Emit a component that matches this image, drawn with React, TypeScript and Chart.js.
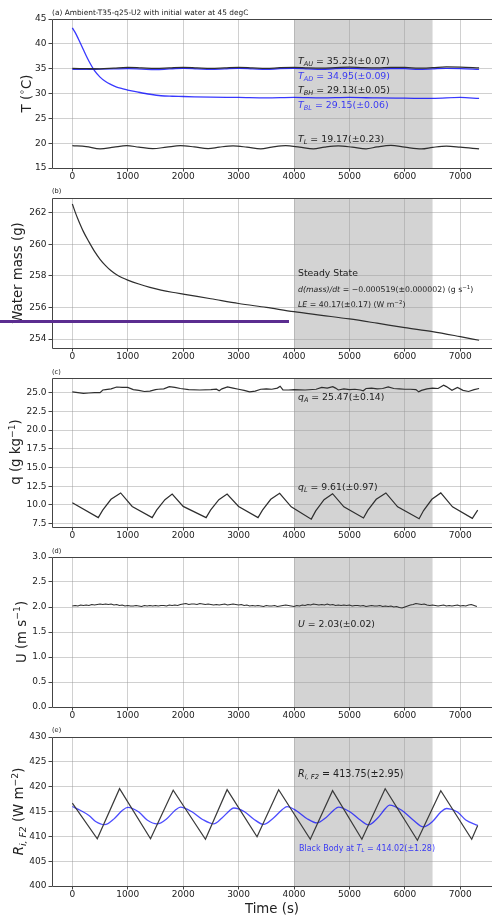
import React, { useEffect, useRef } from "react";
import { Chart, registerables } from "chart.js";
Chart.register(...registerables);

// ---------------- data ----------------
const X_TICKS = [0, 1000, 2000, 3000, 4000, 5000, 6000, 7000];
const X_MIN = -367;
const X_MAX = 7573;
const SHADE_FROM = 4000;
const SHADE_TO = 6500;

const T_TICKS = [15, 20, 25, 30, 35, 40, 45];
const MASS_TICKS = [254, 256, 258, 260, 262];
const Q_TICKS = [7.5, 10, 12.5, 15, 17.5, 20, 22.5, 25];
const U_TICKS = [0, 0.5, 1, 1.5, 2, 2.5, 3];
const R_TICKS = [400, 405, 410, 415, 420, 425, 430];

// (a) temperatures
const T_BL_TIME = [0, 50, 100, 150, 200, 250, 300, 400, 500, 600, 700, 800, 900, 1000, 1200, 1400, 1600, 1800, 2000, 2500, 3000, 3500, 4000, 4500, 5000, 5500, 6000, 6500, 7000, 7340];
const T_BL = [43.2, 42.3, 41.2, 40.0, 38.8, 37.6, 36.5, 34.6, 33.3, 32.4, 31.8, 31.3, 31.0, 30.7, 30.25, 29.85, 29.55, 29.45, 29.4, 29.25, 29.2, 29.1, 29.2, 29.1, 29.2, 29.1, 29.05, 29.0, 29.2, 29.0];

const T_A_TIME = [0, 250, 500, 750, 1000, 1250, 1500, 1750, 2000, 2250, 2500, 2750, 3000, 3250, 3500, 3750, 4000, 4250, 4500, 4750, 5000, 5250, 5500, 5750, 6000, 6250, 6500, 6750, 7000, 7340];
const T_AU = [35.05, 35.0, 34.95, 35.1, 35.25, 35.15, 35.05, 35.15, 35.25, 35.15, 35.05, 35.15, 35.25, 35.15, 35.05, 35.2, 35.25, 35.15, 35.1, 35.2, 35.3, 35.2, 35.15, 35.25, 35.25, 35.1, 35.2, 35.35, 35.3, 35.15];
const T_AD = [34.85, 34.85, 34.9, 34.95, 35.0, 34.9, 34.8, 34.95, 35.05, 34.95, 34.85, 34.95, 35.05, 34.95, 34.85, 35.0, 35.05, 34.95, 34.85, 35.0, 35.05, 34.95, 34.9, 35.0, 35.0, 34.85, 34.95, 35.05, 35.0, 34.85];

const T_L_TIME = [0, 250, 500, 750, 980, 1200, 1450, 1700, 1950, 2200, 2450, 2650, 2900, 3150, 3400, 3600, 3850, 4100, 4350, 4550, 4800, 5050, 5300, 5500, 5750, 6000, 6300, 6500, 6750, 7000, 7340];
const T_L = [19.5, 19.3, 18.85, 19.2, 19.5, 19.2, 18.9, 19.2, 19.5, 19.25, 18.9, 19.2, 19.45, 19.2, 18.85, 19.2, 19.5, 19.2, 18.85, 19.2, 19.45, 19.2, 18.85, 19.25, 19.55, 19.2, 18.85, 19.15, 19.4, 19.2, 18.85];

// (b) water mass
const MASS_TIME = [0, 50, 100, 200, 300, 400, 500, 600, 700, 800, 900, 1000, 1200, 1400, 1600, 1800, 2000, 2500, 3000, 3500, 4000, 4500, 5000, 5500, 6000, 6500, 7000, 7340];
const MASS = [262.55, 262.05, 261.6, 260.8, 260.15, 259.55, 259.05, 258.65, 258.32, 258.07, 257.88, 257.73, 257.48, 257.27, 257.1, 256.96, 256.84, 256.55, 256.25, 256.0, 255.73, 255.5, 255.27, 255.0, 254.72, 254.47, 254.15, 253.92];

// (c) specific humidity
const QA_TIME = [0, 100, 200, 300, 400, 500, 550, 600, 700, 800, 900, 1000, 1100, 1200, 1300, 1400, 1500, 1550, 1650, 1750, 1850, 1950, 2100, 2300, 2500, 2600, 2650, 2700, 2800, 2900, 3000, 3100, 3200, 3300, 3400, 3500, 3600, 3700, 3750, 3800, 3900, 4000, 4200, 4400, 4500, 4600, 4700, 4750, 4800, 4900, 5000, 5100, 5200, 5250, 5300, 5400, 5500, 5600, 5700, 5800, 5900, 6000, 6100, 6200, 6250, 6300, 6400, 6500, 6600, 6700, 6750, 6850, 6950, 7050, 7150, 7250, 7340];
const QA = [25.1, 25.0, 24.9, 24.95, 25.0, 25.0, 25.35, 25.4, 25.5, 25.75, 25.7, 25.7, 25.4, 25.3, 25.15, 25.2, 25.4, 25.45, 25.5, 25.8, 25.7, 25.55, 25.4, 25.35, 25.4, 25.45, 25.25, 25.5, 25.75, 25.6, 25.45, 25.3, 25.1, 25.2, 25.45, 25.5, 25.45, 25.6, 25.85, 25.35, 25.35, 25.4, 25.35, 25.45, 25.7, 25.6, 25.8, 25.6, 25.35, 25.5, 25.4, 25.45, 25.35, 25.25, 25.55, 25.6, 25.5, 25.55, 25.75, 25.55, 25.5, 25.45, 25.45, 25.4, 25.1, 25.3, 25.5, 25.6, 25.55, 26.0, 25.8, 25.3, 25.7, 25.3, 25.15, 25.4, 25.55];

const QL_TIME = [0, 468, 548, 698, 872, 1080, 1441, 1521, 1671, 1802, 2000, 2414, 2494, 2644, 2793, 3000, 3351, 3431, 3581, 3741, 3950, 4312, 4392, 4542, 4696, 4900, 5254, 5334, 5484, 5658, 5870, 6258, 6338, 6488, 6649, 6860, 7218, 7315];
const QL = [10.3, 8.3, 9.3, 10.75, 11.6, 9.8, 8.3, 9.3, 10.7, 11.45, 9.8, 8.3, 9.3, 10.7, 11.45, 9.8, 8.3, 9.3, 10.75, 11.55, 9.75, 8.1, 9.2, 10.7, 11.5, 9.75, 8.25, 9.3, 10.75, 11.6, 9.75, 8.15, 9.25, 10.75, 11.6, 9.75, 8.2, 9.3];

// (d) wind speed, sampled every 50 s from t = 0
const U_DT = 50;
const U = [
  2.02, 2.03, 2.02, 2.04, 2.03, 2.04, 2.03, 2.05, 2.04, 2.05,
  2.06, 2.05, 2.06, 2.05, 2.06, 2.04, 2.05, 2.03, 2.04, 2.02,
  2.03, 2.02, 2.02, 2.03, 2.02, 2.01, 2.03, 2.02, 2.03, 2.02,
  2.03, 2.02, 2.03, 2.03, 2.02, 2.04, 2.03, 2.04, 2.03, 2.05,
  2.06, 2.07, 2.05, 2.06, 2.06, 2.05, 2.07, 2.06, 2.05, 2.06,
  2.05, 2.04, 2.05, 2.04, 2.05, 2.06, 2.04, 2.05, 2.06, 2.05,
  2.04, 2.05, 2.03, 2.04, 2.02, 2.03, 2.02, 2.03, 2.02, 2.01,
  2.03, 2.02, 2.02, 2.03, 2.01, 2.02, 2.03, 2.04, 2.03, 2.02,
  2.01, 2.03, 2.02, 2.04, 2.03, 2.05, 2.04, 2.06, 2.05, 2.04,
  2.05, 2.04, 2.06, 2.04, 2.05, 2.03, 2.04, 2.03, 2.04, 2.03,
  2.04, 2.02, 2.03, 2.03, 2.02, 2.03, 2.01, 2.02, 2.03, 2.02,
  2.02, 2.03, 2.01, 2.02, 2.01, 2.02, 2.00, 2.01, 1.99, 1.98,
  2.00, 2.02, 2.04, 2.05, 2.07, 2.06, 2.05, 2.06, 2.04, 2.03,
  2.04, 2.03, 2.02, 2.03, 2.04, 2.02, 2.03, 2.02, 2.03, 2.04,
  2.02, 2.03, 2.02, 2.04, 2.05, 2.03, 2.01,
];

// (e) radiation
const R_TIME = [0, 450, 852, 1411, 1820, 2402, 2793, 3333, 3723, 4294, 4696, 5225, 5645, 6227, 6649, 7207, 7315];
const R = [416.7, 409.5, 419.6, 409.5, 419.3, 409.4, 419.4, 409.9, 419.4, 409.4, 419.2, 409.4, 419.6, 409.2, 419.2, 409.4, 412.2];

const BB_TIME = [0, 150, 300, 420, 582, 760, 900, 1000, 1200, 1350, 1531, 1710, 1860, 1951, 2150, 2350, 2551, 2700, 2830, 2912, 3100, 3270, 3452, 3620, 3790, 3874, 4050, 4230, 4414, 4580, 4720, 4804, 5000, 5170, 5344, 5510, 5650, 5723, 5950, 6150, 6335, 6500, 6650, 6757, 6950, 7100, 7315];
const BB = [416.0, 415.2, 414.2, 413.0, 412.35, 413.6, 415.2, 415.85, 414.9, 413.3, 412.5, 413.6, 415.3, 415.9, 415.0, 413.4, 412.5, 413.7, 415.1, 415.7, 415.0, 413.5, 412.4, 413.6, 415.4, 416.0, 415.1, 413.6, 412.7, 413.8, 415.3, 415.9, 415.0, 413.5, 412.3, 413.7, 415.6, 416.3, 415.2, 413.3, 411.9, 413.0, 414.9, 415.6, 414.9, 413.3, 412.2];

// ---------------- styling ----------------
const FONT = '"DejaVu Sans", "Liberation Sans", sans-serif';
const TXT = "#222";
const BLACK_LINE = "#2e2e2e";
const BLUE_LINE = "rgba(0,0,255,0.78)";
const BLUE_TXT = "rgba(0,0,255,0.75)";
const GRID = "rgba(150,150,150,0.45)";
const SHADE = "#d3d3d3";
const FRAME = "#444";

type Part = { t: string; i?: boolean; sub?: boolean; sup?: boolean };
type TextItem = {
  parts: Part[];
  x: number;
  y: number;
  size: number;
  color: string;
  align?: "left" | "center";
  rot?: boolean;
};

const pts = (t: number[], v: number[]) => t.map((x, k) => ({ x, y: v[k] }));

function line(data: { x: number; y: number }[], color: string, smooth: boolean, width = 1.2) {
  return {
    data,
    borderColor: color,
    borderWidth: width,
    pointRadius: 0,
    fill: false,
    tension: smooth ? 0.4 : 0,
    cubicInterpolationMode: smooth ? "monotone" : "default",
  };
}

const L = (s: string): TextItem["parts"] => [{ t: s }];

type Panel = {
  key: string;
  canvasTop: number;
  canvasH: number;
  plotTop: number;
  plotBottom: number;
  yMin: number;
  yMax: number;
  yTicks: number[];
  dec: number;
  datasets: any[];
  texts: TextItem[];
};

const PANELS: Panel[] = [
  {
    key: "a",
    canvasTop: 0,
    canvasH: 182,
    plotTop: 19,
    plotBottom: 168,
    yMin: 15,
    yMax: 45,
    yTicks: T_TICKS,
    dec: 0,
    datasets: [
      line(pts(T_A_TIME, T_AU), BLACK_LINE, true, 1.3),
      line(pts(T_A_TIME, T_AD), BLUE_LINE, true, 1.3),
      line(pts(T_L_TIME, T_L), BLACK_LINE, true, 1.2),
      line(pts(T_BL_TIME, T_BL), BLUE_LINE, true, 1.3),
    ],
    texts: [
      { parts: L("(a) Ambient-T35-q25-U2 with initial water at 45 degC"), x: 52, y: 12, size: 7.4, color: TXT },
      { parts: [{ t: "T", i: true }, { t: "AU", i: true, sub: true }, { t: " = 35.23(±0.07)" }], x: 298, y: 60.5, size: 9.4, color: TXT },
      { parts: [{ t: "T", i: true }, { t: "AD", i: true, sub: true }, { t: " = 34.95(±0.09)" }], x: 298, y: 75.7, size: 9.4, color: BLUE_TXT },
      { parts: [{ t: "T", i: true }, { t: "BH", i: true, sub: true }, { t: " = 29.13(±0.05)" }], x: 298, y: 89.7, size: 9.4, color: TXT },
      { parts: [{ t: "T", i: true }, { t: "BL", i: true, sub: true }, { t: " = 29.15(±0.06)" }], x: 298, y: 105, size: 9.4, color: BLUE_TXT },
      { parts: [{ t: "T", i: true }, { t: "L", i: true, sub: true }, { t: " = 19.17(±0.23)" }], x: 298, y: 138.3, size: 9.4, color: TXT },
      { parts: [{ t: "T (" }, { t: "∘", sup: true }, { t: "C)" }], x: 26, y: 93.5, size: 13.3, color: TXT, align: "center", rot: true },
    ],
  },
  {
    key: "b",
    canvasTop: 184,
    canvasH: 178,
    plotTop: 198,
    plotBottom: 348,
    yMin: 253.43,
    yMax: 262.93,
    yTicks: MASS_TICKS,
    dec: 0,
    datasets: [line(pts(MASS_TIME, MASS), BLACK_LINE, true, 1.2)],
    texts: [
      { parts: L("(b)"), x: 52, y: 191, size: 6.6, color: TXT },
      { parts: L("Steady State"), x: 298, y: 272.7, size: 9.3, color: TXT },
      { parts: [{ t: "d(mass)/dt", i: true }, { t: " = −0.000519(±0.000002) (g s" }, { t: "−1", sup: true }, { t: ")" }], x: 298, y: 289, size: 7.8, color: TXT },
      { parts: [{ t: "LE", i: true }, { t: " = 40.17(±0.17) (W m" }, { t: "−2", sup: true }, { t: ")" }], x: 298, y: 304.3, size: 7.8, color: TXT },
      { parts: L("Water mass (g)"), x: 17.5, y: 273, size: 13.3, color: TXT, align: "center", rot: true },
    ],
  },
  {
    key: "c",
    canvasTop: 365,
    canvasH: 176,
    plotTop: 378,
    plotBottom: 527,
    yMin: 7.05,
    yMax: 26.95,
    yTicks: Q_TICKS,
    dec: 1,
    datasets: [
      line(pts(QA_TIME, QA), BLACK_LINE, false, 1.2),
      line(pts(QL_TIME, QL), BLACK_LINE, false, 1.2),
    ],
    texts: [
      { parts: L("(c)"), x: 52, y: 371.7, size: 6.6, color: TXT },
      { parts: [{ t: "q", i: true }, { t: "A", i: true, sub: true }, { t: " = 25.47(±0.14)" }], x: 298, y: 396.7, size: 9.3, color: TXT },
      { parts: [{ t: "q", i: true }, { t: "L", i: true, sub: true }, { t: " = 9.61(±0.97)" }], x: 298, y: 486.7, size: 9.3, color: TXT },
      { parts: [{ t: "q (g kg" }, { t: "−1", sup: true }, { t: ")" }], x: 15.5, y: 452, size: 13.3, color: TXT, align: "center", rot: true },
    ],
  },
  {
    key: "d",
    canvasTop: 543,
    canvasH: 178,
    plotTop: 557,
    plotBottom: 707,
    yMin: 0,
    yMax: 3,
    yTicks: U_TICKS,
    dec: 1,
    datasets: [line(pts(U.map((_, k) => k * U_DT), U), BLACK_LINE, false, 1.1)],
    texts: [
      { parts: L("(d)"), x: 52, y: 550.7, size: 6.6, color: TXT },
      { parts: [{ t: "U", i: true }, { t: " = 2.03(±0.02)" }], x: 298, y: 624, size: 9.3, color: TXT },
      { parts: [{ t: "U (m s" }, { t: "−1", sup: true }, { t: ")" }], x: 21, y: 632, size: 13.3, color: TXT, align: "center", rot: true },
    ],
  },
  {
    key: "e",
    canvasTop: 723,
    canvasH: 197,
    plotTop: 737,
    plotBottom: 886,
    yMin: 400,
    yMax: 430,
    yTicks: R_TICKS,
    dec: 0,
    datasets: [
      line(pts(R_TIME, R), "#3a3a3a", false, 1.2),
      line(pts(BB_TIME, BB), "rgba(0,0,255,0.7)", true, 1.3),
    ],
    texts: [
      { parts: L("(e)"), x: 52, y: 729.3, size: 6.6, color: TXT },
      { parts: [{ t: "R", i: true }, { t: "i, F2", i: true, sub: true }, { t: " = 413.75(±2.95)" }], x: 298, y: 773.3, size: 9.6, color: TXT },
      { parts: [{ t: "Black Body at " }, { t: "T", i: true }, { t: "L", i: true, sub: true }, { t: " = 414.02(±1.28)" }], x: 299, y: 847.7, size: 8, color: BLUE_TXT },
      { parts: [{ t: "R", i: true }, { t: "i, F2", i: true, sub: true }, { t: " (W m" }, { t: "−2", sup: true }, { t: ")" }], x: 18.5, y: 811.5, size: 13.3, color: TXT, align: "center", rot: true },
      { parts: L("Time (s)"), x: 272, y: 908, size: 13.3, color: TXT, align: "center" },
    ],
  },
];

function drawRich(ctx: CanvasRenderingContext2D, item: TextItem, offY: number) {
  const { parts, x, y, size, color, align = "left", rot = false } = item;
  ctx.save();
  ctx.fillStyle = color;
  ctx.textBaseline = "alphabetic";
  ctx.textAlign = "left";
  const fontOf = (p: Part) => `${p.i ? "italic " : ""}${p.sub || p.sup ? size * 0.7 : size}px ${FONT}`;
  let total = 0;
  const widths = parts.map((p) => {
    ctx.font = fontOf(p);
    const w = ctx.measureText(p.t).width;
    total += w;
    return w;
  });
  ctx.translate(x, y - offY);
  if (rot) ctx.rotate(-Math.PI / 2);
  let cx = align === "center" ? -total / 2 : 0;
  const base = size * 0.36;
  parts.forEach((p, k) => {
    ctx.font = fontOf(p);
    const dy = p.sub ? size * 0.22 : p.sup ? -size * 0.42 : 0;
    ctx.fillText(p.t, cx, base + dy);
    cx += widths[k];
  });
  ctx.restore();
}

function makeChart(canvas: HTMLCanvasElement, p: Panel) {
  const xH = p.canvasTop + p.canvasH - p.plotBottom;
  const decor = {
    id: "decor" + p.key,
    beforeDraw(chart: any) {
      const { ctx, chartArea: a, scales } = chart;
      const x1 = scales.x.getPixelForValue(SHADE_FROM);
      const x2 = scales.x.getPixelForValue(SHADE_TO);
      ctx.save();
      ctx.fillStyle = SHADE;
      ctx.fillRect(x1, a.top, x2 - x1, a.bottom - a.top);
      ctx.restore();
    },
    afterDraw(chart: any) {
      const { ctx, chartArea: a } = chart;
      ctx.save();
      ctx.strokeStyle = FRAME;
      ctx.lineWidth = 1;
      ctx.beginPath();
      ctx.moveTo(a.right + 2, a.top + 0.5);
      ctx.lineTo(a.left + 0.5, a.top + 0.5);
      ctx.lineTo(a.left + 0.5, a.bottom + 0.5);
      ctx.lineTo(a.right + 2, a.bottom + 0.5);
      ctx.stroke();
      ctx.restore();
      p.texts.forEach((t) => drawRich(ctx, t, p.canvasTop));
    },
  };
  return new Chart(canvas, {
    type: "line",
    data: { datasets: p.datasets as any },
    options: {
      animation: false,
      responsive: false,
      devicePixelRatio: 1,
      parsing: false as any,
      layout: { padding: { top: p.plotTop - p.canvasTop, left: 0, right: 0, bottom: 0 } },
      plugins: { legend: { display: false }, tooltip: { enabled: false }, title: { display: false } },
      scales: {
        x: {
          type: "linear",
          min: X_MIN,
          max: X_MAX,
          afterBuildTicks: (s: any) => {
            s.ticks = X_TICKS.map((v) => ({ value: v }));
          },
          afterFit: (s: any) => {
            s.height = xH;
          },
          grid: { color: GRID, lineWidth: 1, drawTicks: true, tickLength: 3.5, tickColor: FRAME },
          border: { display: false },
          ticks: {
            autoSkip: false,
            maxRotation: 0,
            padding: 0,
            color: TXT,
            font: { family: FONT, size: 9 },
            callback: (v: any) => String(v),
          },
        },
        y: {
          type: "linear",
          min: p.yMin,
          max: p.yMax,
          afterBuildTicks: (s: any) => {
            s.ticks = p.yTicks.map((v) => ({ value: v }));
          },
          afterFit: (s: any) => {
            s.width = 52;
          },
          grid: { color: GRID, lineWidth: 1, drawTicks: true, tickLength: 3.5, tickColor: FRAME },
          border: { display: false },
          ticks: {
            autoSkip: false,
            padding: 2,
            color: TXT,
            font: { family: FONT, size: 9 },
            callback: (v: any) => Number(v).toFixed(p.dec),
          },
        },
      },
    },
    plugins: [decor],
  } as any);
}

export default function App() {
  const refs = useRef<(HTMLCanvasElement | null)[]>([]);
  useEffect(() => {
    document.body.style.margin = "0";
    document.body.style.overflow = "hidden";
    const charts = PANELS.map((p, i) => makeChart(refs.current[i] as HTMLCanvasElement, p));
    return () => charts.forEach((c) => c.destroy());
  }, []);
  return (
    <div style={{ position: "relative", width: 492, height: 920, background: "#fff", overflow: "hidden" }}>
      {PANELS.map((p, i) => (
        <canvas
          key={p.key}
          ref={(el) => {
            refs.current[i] = el;
          }}
          width={492}
          height={p.canvasH}
          style={{ position: "absolute", left: 0, top: p.canvasTop, width: 492, height: p.canvasH }}
        />
      ))}
      <div style={{ position: "absolute", left: 0, top: 320, width: 289, height: 3, background: "#5b2d90" }} />
    </div>
  );
}
